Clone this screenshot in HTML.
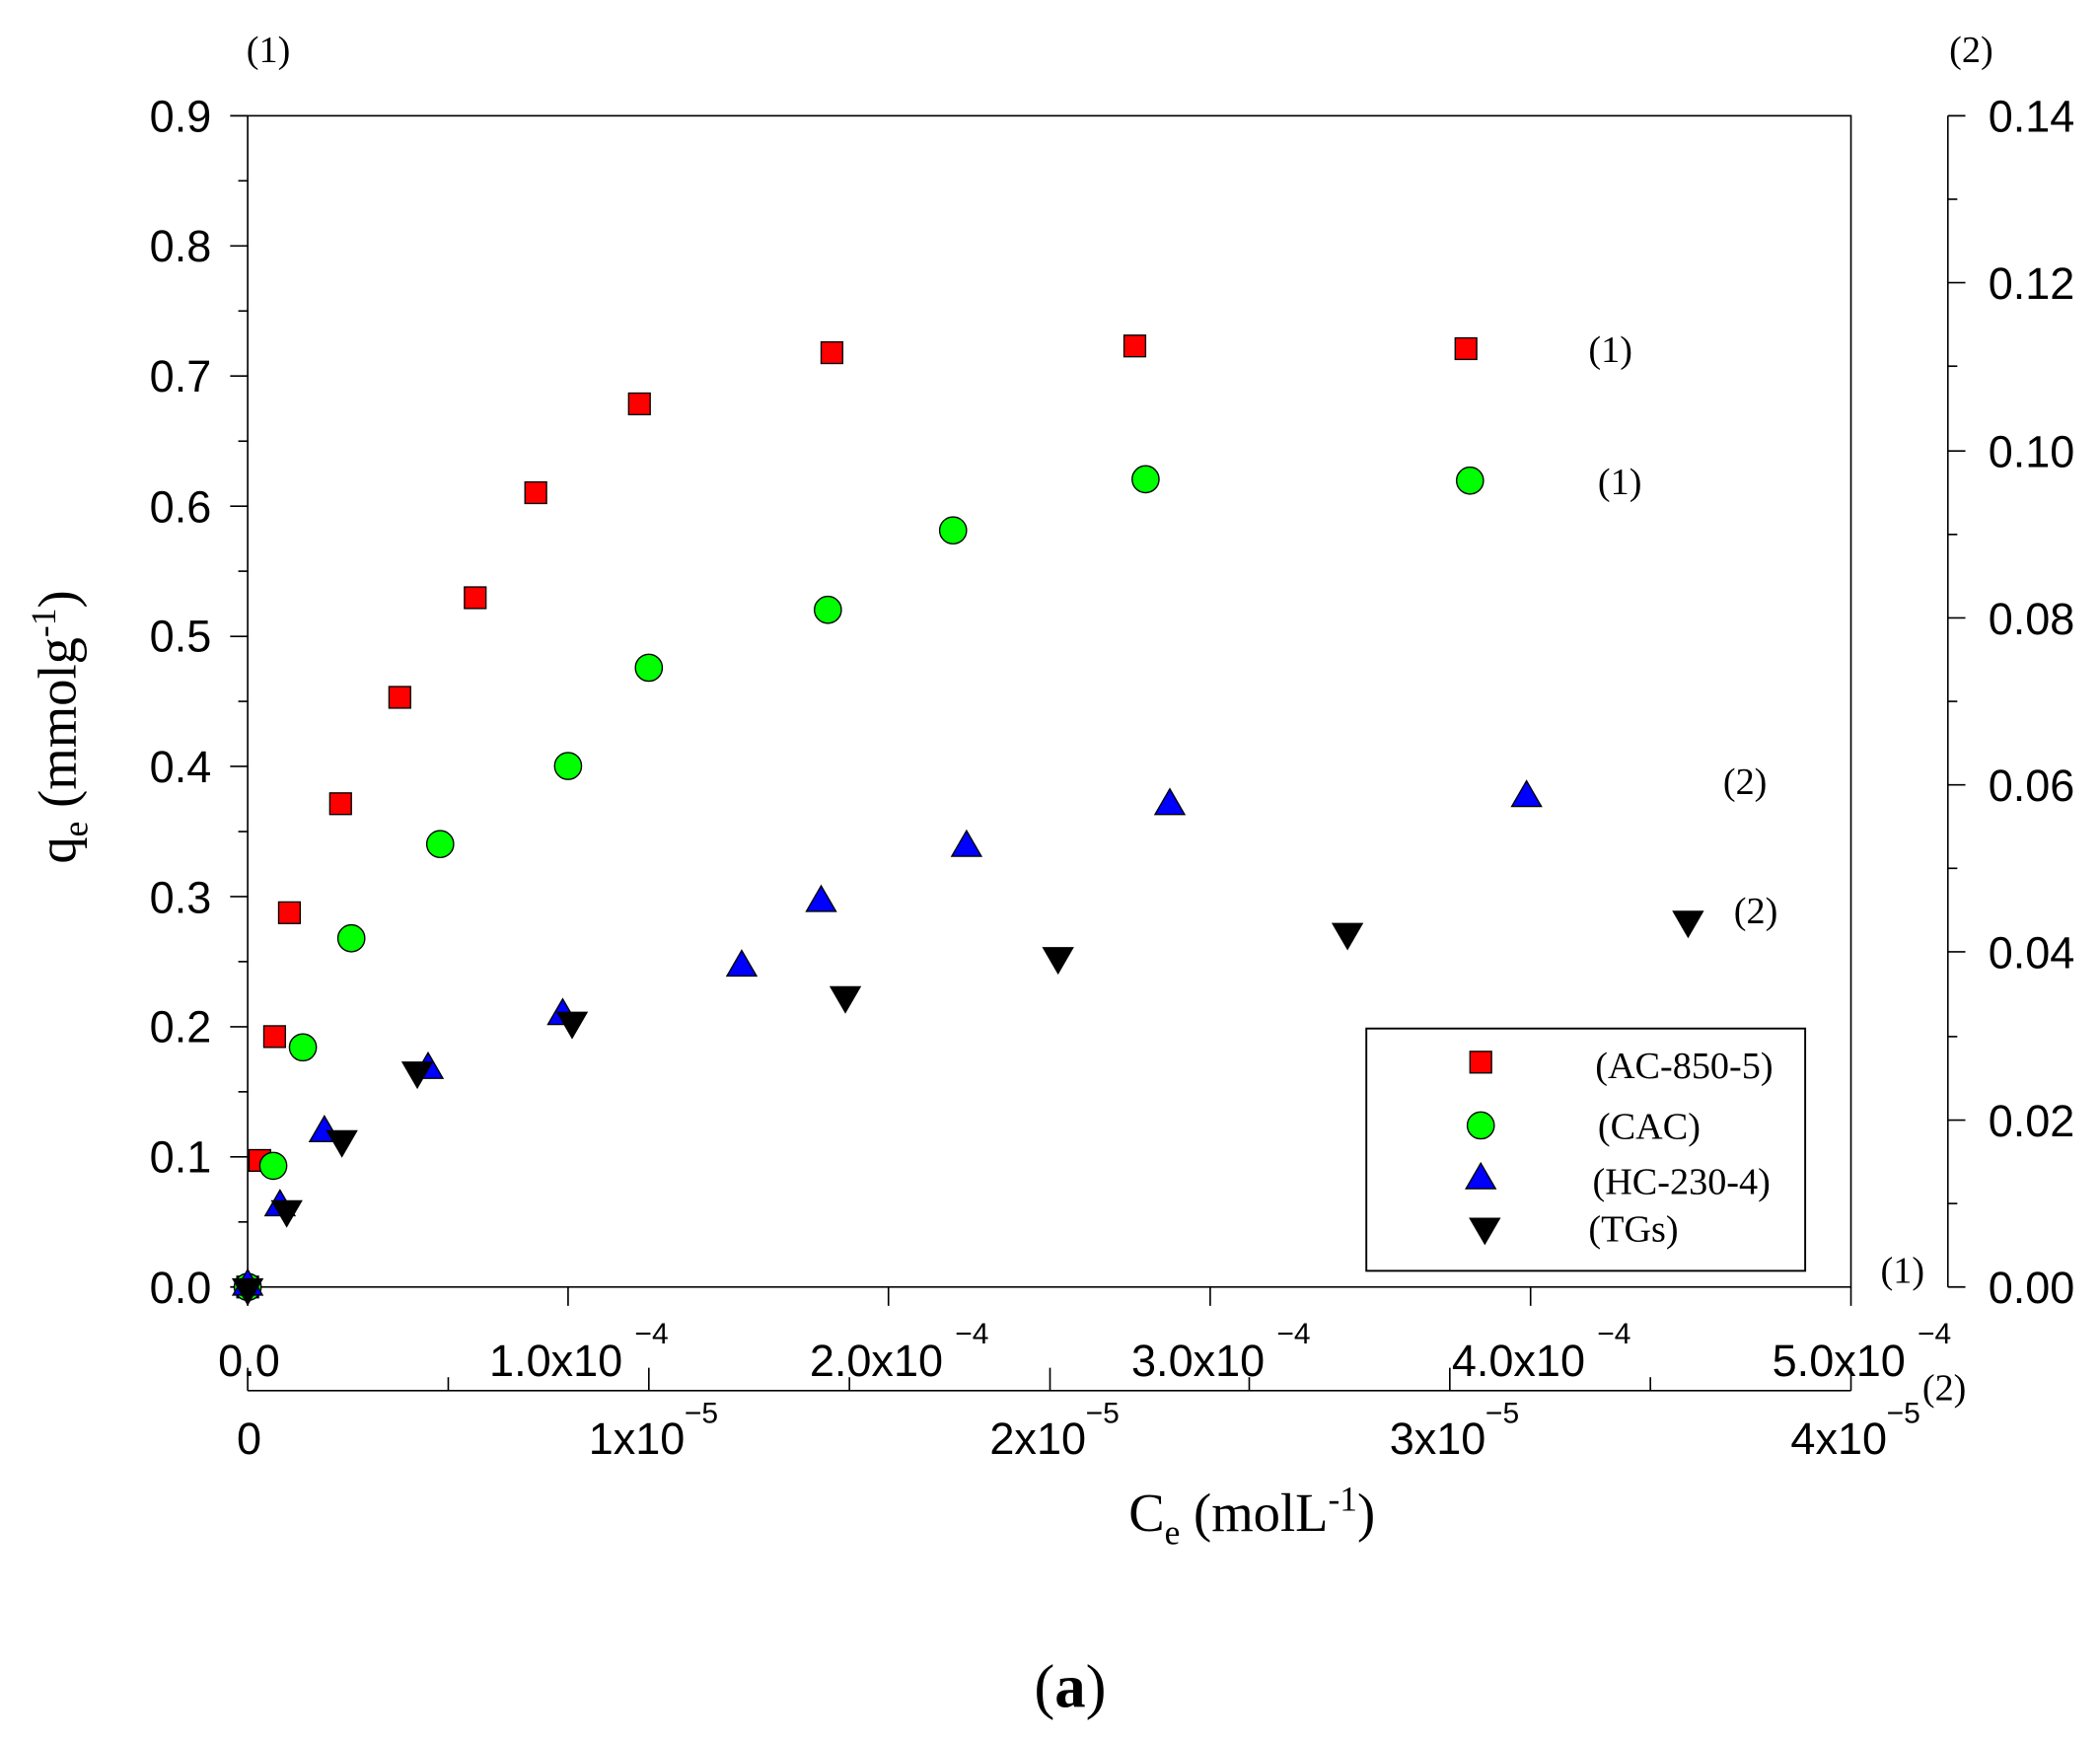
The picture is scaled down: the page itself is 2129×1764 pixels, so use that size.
<!DOCTYPE html>
<html><head><meta charset="utf-8"><style>
html,body{margin:0;padding:0;background:#fff;}
svg{display:block;}
.s{font-family:"Liberation Sans",Arial,sans-serif;font-size:33px;fill:#000;}
.r{font-family:"Liberation Serif","Times New Roman",serif;fill:#000;}
</style></head><body>
<svg width="2129" height="1764" viewBox="0 0 1560 1292.5" preserveAspectRatio="none" xmlns="http://www.w3.org/2000/svg">
<g stroke="#000" stroke-width="1.2" fill="none">
<rect x="184" y="86" width="1191" height="870"/>
<line x1="1375" y1="956" x2="1375" y2="970"/>
<line x1="171" y1="86" x2="184" y2="86"/><line x1="177" y1="134.3" x2="184" y2="134.3"/>
<line x1="171" y1="182.7" x2="184" y2="182.7"/><line x1="177" y1="231" x2="184" y2="231"/>
<line x1="171" y1="279.3" x2="184" y2="279.3"/><line x1="177" y1="327.7" x2="184" y2="327.7"/>
<line x1="171" y1="376" x2="184" y2="376"/><line x1="177" y1="424.3" x2="184" y2="424.3"/>
<line x1="171" y1="472.7" x2="184" y2="472.7"/><line x1="177" y1="521" x2="184" y2="521"/>
<line x1="171" y1="569.3" x2="184" y2="569.3"/><line x1="177" y1="617.7" x2="184" y2="617.7"/>
<line x1="171" y1="666" x2="184" y2="666"/><line x1="177" y1="714.3" x2="184" y2="714.3"/>
<line x1="171" y1="762.7" x2="184" y2="762.7"/><line x1="177" y1="811" x2="184" y2="811"/>
<line x1="171" y1="859.3" x2="184" y2="859.3"/><line x1="177" y1="907.7" x2="184" y2="907.7"/>
<line x1="171" y1="956" x2="184" y2="956"/>
<line x1="184" y1="956" x2="184" y2="970"/><line x1="422" y1="956" x2="422" y2="970"/>
<line x1="660" y1="956" x2="660" y2="970"/><line x1="899" y1="956" x2="899" y2="970"/>
<line x1="1137" y1="956" x2="1137" y2="970"/>
<line x1="184" y1="1033" x2="1375" y2="1033"/>
<line x1="184" y1="1033" x2="184" y2="1016"/><line x1="333" y1="1033" x2="333" y2="1023"/>
<line x1="482" y1="1033" x2="482" y2="1016"/><line x1="631" y1="1033" x2="631" y2="1023"/>
<line x1="780" y1="1033" x2="780" y2="1016"/><line x1="928" y1="1033" x2="928" y2="1023"/>
<line x1="1077" y1="1033" x2="1077" y2="1016"/><line x1="1226" y1="1033" x2="1226" y2="1023"/>
<line x1="1375" y1="1033" x2="1375" y2="1016"/>
<line x1="1447" y1="86" x2="1447" y2="956"/>
<line x1="1447" y1="86" x2="1460" y2="86"/><line x1="1447" y1="148" x2="1454" y2="148"/>
<line x1="1447" y1="210" x2="1460" y2="210"/><line x1="1447" y1="272" x2="1454" y2="272"/>
<line x1="1447" y1="335" x2="1460" y2="335"/><line x1="1447" y1="397" x2="1454" y2="397"/>
<line x1="1447" y1="459" x2="1460" y2="459"/><line x1="1447" y1="521" x2="1454" y2="521"/>
<line x1="1447" y1="583" x2="1460" y2="583"/><line x1="1447" y1="645" x2="1454" y2="645"/>
<line x1="1447" y1="707" x2="1460" y2="707"/><line x1="1447" y1="770" x2="1454" y2="770"/>
<line x1="1447" y1="832" x2="1460" y2="832"/><line x1="1447" y1="894" x2="1454" y2="894"/>
<line x1="1447" y1="956" x2="1460" y2="956"/>
<rect x="1015" y="764" width="326" height="180" stroke-width="1.4"/>
</g>
<g class="s" text-anchor="end">
<text x="157" y="98">0.9</text><text x="157" y="194">0.8</text><text x="157" y="291">0.7</text>
<text x="157" y="388">0.6</text><text x="157" y="484">0.5</text><text x="157" y="581">0.4</text>
<text x="157" y="678">0.3</text><text x="157" y="774">0.2</text><text x="157" y="871">0.1</text>
<text x="157" y="968">0.0</text>
</g>
<g class="s">
<text x="1477" y="98">0.14</text><text x="1477" y="222">0.12</text><text x="1477" y="347">0.10</text>
<text x="1477" y="471">0.08</text><text x="1477" y="595">0.06</text><text x="1477" y="719">0.04</text>
<text x="1477" y="844">0.02</text><text x="1477" y="968">0.00</text>
</g>
<g class="s" text-anchor="middle">
<text x="185" y="1022">0.0</text>
<text x="413" y="1022">1.0x10</text><text x="484" y="998" font-size="22">−4</text>
<text x="651" y="1022">2.0x10</text><text x="722" y="998" font-size="22">−4</text>
<text x="890" y="1022">3.0x10</text><text x="961" y="998" font-size="22">−4</text>
<text x="1128" y="1022">4.0x10</text><text x="1199" y="998" font-size="22">−4</text>
<text x="1366" y="1022">5.0x10</text><text x="1437" y="998" font-size="22">−4</text>
<text x="185" y="1080">0</text>
<text x="473" y="1080">1x10</text><text x="521" y="1057" font-size="22">−5</text>
<text x="771" y="1080">2x10</text><text x="819" y="1057" font-size="22">−5</text>
<text x="1068" y="1080">3x10</text><text x="1116" y="1057" font-size="22">−5</text>
<text x="1366" y="1080">4x10</text><text x="1414" y="1057" font-size="22">−5</text>
</g>
<g class="r" font-size="28">
<text x="183" y="46">(1)</text><text x="1448" y="46">(2)</text>
<text x="1397" y="953">(1)</text><text x="1428" y="1040">(2)</text>
<text x="1180" y="269">(1)</text><text x="1187" y="367">(1)</text>
<text x="1280" y="590">(2)</text><text x="1288" y="686">(2)</text>
<text x="1185" y="801">(AC-850-5)</text><text x="1187" y="846">(CAC)</text>
<text x="1183" y="887">(HC-230-4)</text><text x="1180" y="922">(TGs)</text>
</g>
<text class="r" font-size="40" transform="translate(56,540) rotate(-90)" text-anchor="middle">q<tspan font-size="26" dy="9">e</tspan><tspan dy="-9"> (mmolg</tspan><tspan font-size="26" dy="-15">-1</tspan><tspan dy="15">)</tspan></text>
<text class="r" font-size="40" x="930" y="1137" text-anchor="middle">C<tspan font-size="26" dy="10">e</tspan><tspan dy="-10"> (molL</tspan><tspan font-size="26" dy="-15">-1</tspan><tspan dy="15">)</tspan></text>
<text class="r" font-size="46" x="795" y="1268" text-anchor="middle">(<tspan font-weight="bold">a</tspan>)</text>
<defs>
<rect id="sq" x="-8" y="-8" width="16" height="16" fill="#f00" stroke="#000" stroke-width="1"/>
<circle id="ci" r="10" fill="#0f0" stroke="#000" stroke-width="1"/>
<polygon id="tu" points="0,-11 11,8 -11,8" fill="#00f" stroke="#000" stroke-width="1"/>
<polygon id="td" points="0,11 11,-8 -11,-8" fill="#000" stroke="#000" stroke-width="1"/>
</defs>
<g>
<use href="#sq" x="184" y="956"/><use href="#sq" x="193" y="862"/><use href="#sq" x="204" y="770"/><use href="#sq" x="215" y="678"/><use href="#sq" x="253" y="597"/><use href="#sq" x="297" y="518"/><use href="#sq" x="353" y="444"/><use href="#sq" x="398" y="366"/><use href="#sq" x="475" y="300"/><use href="#sq" x="618" y="262"/><use href="#sq" x="843" y="257"/><use href="#sq" x="1089" y="259"/>
<use href="#ci" x="184" y="956"/><use href="#ci" x="203" y="866"/><use href="#ci" x="225" y="778"/><use href="#ci" x="261" y="697"/><use href="#ci" x="327" y="627"/><use href="#ci" x="422" y="569"/><use href="#ci" x="482" y="496"/><use href="#ci" x="615" y="453"/><use href="#ci" x="708" y="394"/><use href="#ci" x="851" y="356"/><use href="#ci" x="1092" y="357"/>
<use href="#tu" x="184" y="954"/><use href="#tu" x="208" y="895"/><use href="#tu" x="241" y="840"/><use href="#tu" x="318" y="793"/><use href="#tu" x="418" y="753"/><use href="#tu" x="551" y="717"/><use href="#tu" x="610" y="669"/><use href="#tu" x="718" y="628"/><use href="#tu" x="869" y="597"/><use href="#tu" x="1134" y="591"/>
<use href="#td" x="184" y="958"/><use href="#td" x="213" y="900"/><use href="#td" x="254" y="848"/><use href="#td" x="310" y="797"/><use href="#td" x="425" y="760"/><use href="#td" x="628" y="741"/><use href="#td" x="786" y="712"/><use href="#td" x="1001" y="694"/><use href="#td" x="1254" y="685"/>
<use href="#sq" x="1100" y="789"/><use href="#ci" x="1100" y="836"/><use href="#tu" x="1100" y="875"/><use href="#td" x="1103" y="913"/>
</g>
</svg>
</body></html>
